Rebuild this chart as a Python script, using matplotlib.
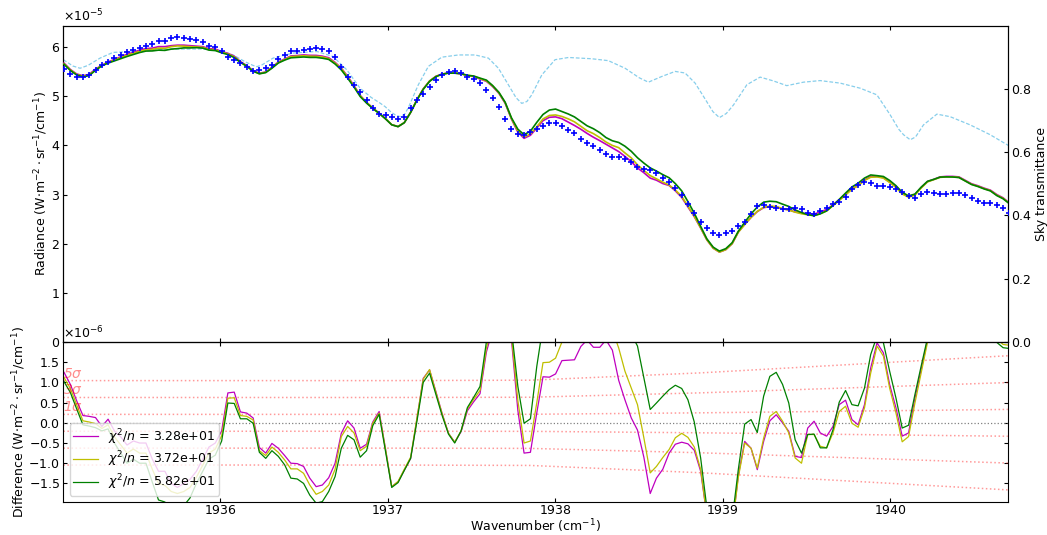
import numpy as np
import matplotlib
matplotlib.use("Agg")
import matplotlib.pyplot as plt

plt.rcParams['axes.formatter.use_mathtext'] = True
plt.rcParams['font.size'] = 9

# observation wavenumbers (cm^-1)
wn = [1935.067, 1935.105, 1935.142, 1935.180, 1935.217, 1935.255, 1935.293, 1935.330, 1935.368, 1935.406,
      1935.443, 1935.481, 1935.518, 1935.556, 1935.594, 1935.631, 1935.669, 1935.707, 1935.744, 1935.782,
      1935.819, 1935.857, 1935.895, 1935.932, 1935.970, 1936.008, 1936.045, 1936.083, 1936.120, 1936.158,
      1936.196, 1936.233, 1936.271, 1936.308, 1936.346, 1936.384, 1936.421, 1936.459, 1936.497, 1936.534,
      1936.572, 1936.609, 1936.647, 1936.685, 1936.722, 1936.760, 1936.798, 1936.835, 1936.873, 1936.910,
      1936.948, 1936.986, 1937.023, 1937.061, 1937.098, 1937.136, 1937.174, 1937.211, 1937.249, 1937.287,
      1937.324, 1937.362, 1937.399, 1937.437, 1937.475, 1937.512, 1937.550, 1937.588, 1937.625, 1937.663,
      1937.700, 1937.738, 1937.776, 1937.813, 1937.851, 1937.889, 1937.926, 1937.964, 1938.001, 1938.039,
      1938.077, 1938.114, 1938.152, 1938.189, 1938.227, 1938.265, 1938.302, 1938.340, 1938.378, 1938.415,
      1938.453, 1938.490, 1938.528, 1938.566, 1938.603, 1938.641, 1938.679, 1938.716, 1938.754, 1938.791,
      1938.829, 1938.867, 1938.904, 1938.942, 1938.979, 1939.017, 1939.055, 1939.092, 1939.130, 1939.168,
      1939.205, 1939.243, 1939.280, 1939.318, 1939.356, 1939.393, 1939.431, 1939.469, 1939.506, 1939.544,
      1939.581, 1939.619, 1939.657, 1939.694, 1939.732, 1939.770, 1939.807, 1939.845, 1939.882, 1939.920,
      1939.958, 1939.995, 1940.033, 1940.070, 1940.108, 1940.146, 1940.183, 1940.221, 1940.259, 1940.296,
      1940.334, 1940.371, 1940.409, 1940.447, 1940.484, 1940.522, 1940.560, 1940.597, 1940.635, 1940.672,
      1940.710]

# observed radiance (x1e-5 W m-2 sr-1 / cm-1)
observed = [5.55, 5.45, 5.40, 5.40, 5.43, 5.54, 5.64, 5.69, 5.77, 5.84,
            5.91, 5.94, 5.99, 6.02, 6.07, 6.13, 6.13, 6.18, 6.20, 6.19,
            6.17, 6.14, 6.10, 6.03, 6.01, 5.93, 5.80, 5.74, 5.68, 5.60,
            5.51, 5.53, 5.57, 5.64, 5.76, 5.84, 5.92, 5.93, 5.95, 5.97,
            5.99, 5.97, 5.92, 5.79, 5.60, 5.40, 5.23, 5.08, 4.93, 4.76,
            4.63, 4.61, 4.58, 4.53, 4.58, 4.76, 4.92, 5.04, 5.18, 5.33,
            5.43, 5.50, 5.52, 5.48, 5.39, 5.35, 5.28, 5.13, 4.97, 4.78,
            4.53, 4.33, 4.24, 4.22, 4.28, 4.33, 4.39, 4.46, 4.46, 4.39,
            4.32, 4.25, 4.14, 4.04, 3.98, 3.91, 3.82, 3.77, 3.77, 3.72,
            3.66, 3.56, 3.53, 3.51, 3.43, 3.34, 3.26, 3.13, 2.99, 2.80,
            2.62, 2.44, 2.31, 2.21, 2.18, 2.21, 2.26, 2.37, 2.44, 2.60,
            2.77, 2.78, 2.75, 2.73, 2.71, 2.71, 2.73, 2.71, 2.62, 2.60,
            2.67, 2.73, 2.80, 2.85, 2.95, 3.11, 3.19, 3.25, 3.23, 3.17,
            3.17, 3.16, 3.12, 3.06, 2.98, 2.94, 3.01, 3.06, 3.03, 3.01,
            3.01, 3.03, 3.03, 2.99, 2.93, 2.86, 2.82, 2.82, 2.78, 2.73,
            2.63]

# model - observation residuals (x1e-6) for the three fits
resid_m = [1.25, 0.95, 0.55, 0.18, 0.16, 0.13, -0.09, 0.09, -0.20, -0.35,
           -0.55, -0.45, -0.50, -0.50, -0.90, -1.20, -1.20, -1.50, -1.60, -1.50,
           -1.40, -1.20, -0.90, -0.60, -0.50, -0.20, 0.74, 0.76, 0.27, 0.24,
           0.12, -0.61, -0.75, -0.51, -0.63, -0.81, -1.00, -1.01, -1.08, -1.37,
           -1.58, -1.54, -1.36, -1.00, -0.26, 0.05, -0.13, -0.63, -0.53, 0.02,
           0.28, -0.65, -1.58, -1.46, -1.17, -0.88, 0.11, 1.10, 1.31, 0.77,
           0.23, -0.26, -0.48, -0.22, 0.30, 0.52, 0.72, 1.75, 2.30, 2.80,
           3.30, 2.05, 0.30, -0.75, -0.73, 0.25, 1.14, 1.13, 1.21, 1.54,
           1.55, 1.56, 1.89, 2.05, 1.87, 1.87, 2.05, 1.80, 1.05, 0.57,
           0.12, -0.18, -0.85, -1.75, -1.37, -1.15, -0.75, -0.53, -0.48, -0.52,
           -0.68, -1.20, -2.30, -3.00, -3.50, -3.30, -2.60, -1.30, -0.46, -0.63,
           -1.16, -0.46, 0.05, 0.20, 0.00, -0.21, -0.83, -0.86, -0.13, 0.04,
           -0.25, -0.33, -0.09, 0.45, 0.56, 0.08, -0.05, 0.45, 1.36, 1.98,
           1.73, 0.95, 0.37, -0.33, -0.25, 0.61, 1.32, 2.05, 2.80, 3.50,
           3.60, 3.40, 3.30, 3.00, 2.90, 3.20, 3.10, 2.70, 2.20, 2.05,
           1.98]
resid_y = [1.12, 0.85, 0.45, 0.05, 0.02, -0.02, -0.14, -0.05, -0.35, -0.55,
           -0.75, -0.65, -0.75, -0.75, -1.15, -1.50, -1.55, -1.70, -1.75, -1.70,
           -1.60, -1.35, -1.05, -0.75, -0.65, -0.32, 0.61, 0.62, 0.18, 0.16,
           0.07, -0.69, -0.81, -0.60, -0.73, -0.92, -1.14, -1.14, -1.25, -1.54,
           -1.77, -1.70, -1.54, -1.15, -0.34, -0.09, -0.25, -0.69, -0.58, -0.01,
           0.24, -0.65, -1.58, -1.45, -1.15, -0.85, 0.12, 1.08, 1.32, 0.75,
           0.22, -0.26, -0.48, -0.20, 0.35, 0.58, 0.80, 1.85, 2.40, 2.90,
           3.40, 2.15, 0.55, -0.50, -0.45, 0.50, 1.49, 1.50, 1.60, 2.00,
           2.20, 2.30, 2.50, 2.60, 2.60, 2.50, 2.50, 2.30, 1.85, 1.28,
           0.86, 0.45, -0.37, -1.24, -1.08, -0.86, -0.66, -0.37, -0.26, -0.36,
           -0.60, -1.15, -2.30, -3.00, -3.50, -3.30, -2.60, -1.35, -0.50, -0.63,
           -1.12, -0.38, 0.16, 0.28, 0.04, -0.25, -0.87, -1.00, -0.29, -0.29,
           -0.58, -0.62, -0.25, 0.28, 0.41, -0.01, -0.11, 0.37, 1.23, 1.90,
           1.65, 0.86, 0.24, -0.47, -0.34, 0.49, 1.23, 1.98, 2.75, 3.40,
           3.50, 3.30, 3.20, 2.90, 2.80, 3.10, 3.00, 2.60, 2.08, 1.94,
           1.92]
resid_g = [1.02, 0.75, 0.35, -0.05, -0.08, -0.12, -0.20, -0.15, -0.50, -0.75,
           -1.00, -0.90, -1.00, -1.00, -1.47, -1.91, -1.96, -2.20, -2.30, -2.05,
           -1.86, -1.50, -1.20, -0.90, -0.80, -0.45, 0.49, 0.48, 0.10, 0.10,
           -0.01, -0.73, -0.88, -0.69, -0.83, -1.04, -1.37, -1.39, -1.50, -1.79,
           -1.99, -1.95, -1.70, -1.33, -0.63, -0.31, -0.42, -0.85, -0.69, -0.07,
           0.21, -0.70, -1.60, -1.48, -1.18, -0.88, 0.05, 1.00, 1.23, 0.70,
           0.18, -0.28, -0.50, -0.20, 0.38, 0.63, 0.90, 2.00, 2.50, 3.00,
           3.50, 2.30, 0.90, -0.01, 0.10, 1.40, 2.40, 2.60, 2.80, 3.00,
           3.20, 3.30, 3.50, 3.60, 3.60, 3.50, 3.40, 3.25, 2.90, 2.65,
           2.20, 1.90, 1.11, 0.33, 0.49, 0.66, 0.82, 0.93, 0.85, 0.57,
           0.02, -0.87, -2.10, -2.80, -3.30, -3.10, -2.40, -1.15, -0.03, 0.08,
           -0.24, 0.66, 1.15, 1.25, 0.95, 0.49, -0.42, -0.75, -0.29, -0.28,
           -0.62, -0.62, -0.17, 0.51, 0.80, 0.45, 0.42, 0.86, 1.69, 2.15,
           1.98, 1.28, 0.61, -0.13, -0.06, 0.70, 1.40, 2.10, 2.80, 3.45,
           3.50, 3.28, 3.17, 2.86, 2.75, 3.04, 2.94, 2.54, 1.99, 1.86,
           1.84]

fit_labels = [r"$\chi^2/n$ = 3.28e+01", r"$\chi^2/n$ = 3.72e+01", r"$\chi^2/n$ = 5.82e+01"]

# sky transmittance
trans_wn = [1935.063, 1935.120, 1935.163, 1935.210, 1935.282, 1935.359, 1935.479, 1935.682, 1935.879, 1935.980,
            1936.076, 1936.150, 1936.195, 1936.219, 1936.250, 1936.315, 1936.434, 1936.577, 1936.673, 1936.755,
            1936.834, 1936.900, 1936.953, 1936.983, 1937.020, 1937.043, 1937.073, 1937.100, 1937.122, 1937.182,
            1937.242, 1937.322, 1937.421, 1937.521, 1937.600, 1937.660, 1937.719, 1937.765, 1937.799, 1937.830,
            1937.859, 1937.919, 1937.998, 1938.078, 1938.217, 1938.316, 1938.416, 1938.500, 1938.555, 1938.635,
            1938.715, 1938.774, 1938.834, 1938.884, 1938.940, 1938.979, 1939.020, 1939.063, 1939.143, 1939.222,
            1939.301, 1939.381, 1939.481, 1939.580, 1939.700, 1939.819, 1939.919, 1939.998, 1940.050, 1940.078,
            1940.118, 1940.150, 1940.197, 1940.277, 1940.356, 1940.476, 1940.595, 1940.704]
trans = [0.892, 0.872, 0.865, 0.874, 0.897, 0.915, 0.918, 0.925, 0.926, 0.923,
         0.907, 0.885, 0.874, 0.870, 0.876, 0.897, 0.913, 0.918, 0.902, 0.860,
         0.802, 0.773, 0.755, 0.744, 0.726, 0.718, 0.712, 0.720, 0.740, 0.813,
         0.871, 0.900, 0.907, 0.907, 0.897, 0.865, 0.813, 0.772, 0.754, 0.760,
         0.781, 0.844, 0.892, 0.899, 0.895, 0.889, 0.865, 0.835, 0.821, 0.839,
         0.855, 0.850, 0.818, 0.776, 0.728, 0.709, 0.722, 0.749, 0.813, 0.837,
         0.825, 0.810, 0.821, 0.826, 0.818, 0.802, 0.781, 0.718, 0.672, 0.655,
         0.639, 0.648, 0.686, 0.720, 0.712, 0.686, 0.655, 0.621]

# noise level sigma (x1e-6)
sigma_wn = [1935.063, 1937.0, 1937.85, 1938.86, 1940.70]
sigma = [0.209, 0.209, 0.211, 0.247, 0.332]
sigma_levels = [1, 3, 5]

# ---------------------------------------------------------------
wn_a = np.array(wn)
obs = np.array(observed) * 1e-5
res = [np.array(r) * 1e-6 for r in (resid_m, resid_y, resid_g)]
models = [obs + r for r in res]
colors = ['m', 'y', 'g']

fig = plt.figure(figsize=(10.47, 5.35), dpi=100)
ax = fig.add_axes([0.0605, 0.3607, 0.902, 0.5916])
axd = fig.add_axes([0.0605, 0.0617, 0.902, 0.2990], sharex=ax)
axt = ax.twinx()

axt.plot(trans_wn, trans, linestyle='--', color='skyblue', lw=0.9, dashes=(3, 1.5))
axt.set_ylim(0, 1.0)
axt.set_yticks([0.0, 0.2, 0.4, 0.6, 0.8])
axt.set_ylabel('Sky transmittance', labelpad=2)
axt.tick_params(direction='in', length=3, pad=2.5)

for mdl, c in zip(models, colors):
    ax.plot(wn_a, mdl, color=c, lw=1.2, zorder=3)
ax.plot(wn_a, obs, '+', color='b', ms=4.6, mew=1.2, zorder=4)
ax.set_zorder(axt.get_zorder() + 1)
ax.patch.set_visible(False)
ax.set_ylim(0, 6.44e-5)
ax.set_yticks([0, 1e-5, 2e-5, 3e-5, 4e-5, 5e-5, 6e-5])
ax.set_ylabel(r'Radiance (W$\cdot$m$^{-2}\cdot$sr$^{-1}$/cm$^{-1}$)', labelpad=0.5)
ax.tick_params(direction='in', top=True, labelbottom=False, length=3, pad=2.5)
ax.set_xlim(1935.063, 1940.70)
ax.set_xticks([1936, 1937, 1938, 1939, 1940])

# residual panel
axd.axhline(0, color='gray', ls=':', lw=0.9)
sig_wn = np.array(sigma_wn)
sig = np.array(sigma) * 1e-6
for k in sigma_levels:
    for s in (1, -1):
        axd.plot(sig_wn, s * k * sig, ls=':', color='red', alpha=0.4, lw=1.1)
    axd.text(1935.063, k * sig[0], r'%d$\sigma$' % k, color='red', alpha=0.45,
             ha='left', va='bottom', fontsize=10, fontstyle='italic')
for r, c, lab in zip(res, colors, fit_labels):
    axd.plot(wn_a, r, color=c, lw=0.9, label=lab)
axd.set_ylim(-1.96e-6, 2.0e-6)
axd.set_yticks([-1.5e-6, -1e-6, -0.5e-6, 0, 0.5e-6, 1e-6, 1.5e-6])
axd.set_ylabel(r'Difference (W$\cdot$m$^{-2}\cdot$sr$^{-1}$/cm$^{-1}$)', labelpad=0.5)
axd.set_xlabel(r'Wavenumber (cm$^{-1}$)', labelpad=0)
axd.tick_params(direction='in', top=True, right=True, length=3, pad=2.5)
axd.tick_params(axis='x', pad=1.5)
axd.legend(loc='lower left', fontsize=9, labelspacing=0.25, borderpad=0.3)

fig.savefig('out.png', dpi=100)
